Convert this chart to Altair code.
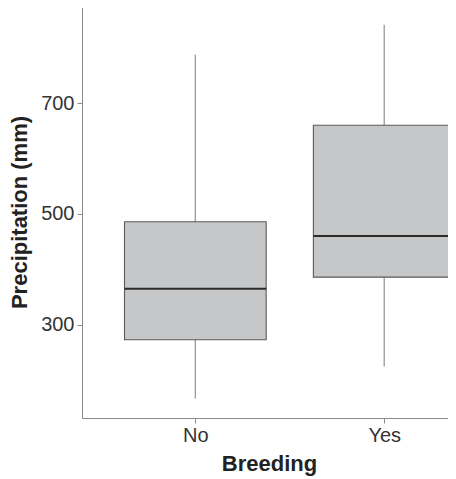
import altair as alt
import pandas as pd

categories = ["No", "Yes"]
positions = [1, 2]
lower = [167, 225]
q1 = [273, 386]
median = [365, 460]
q3 = [486, 660]
upper = [787, 841]

df = pd.DataFrame({
    "Breeding": categories,
    "pos": positions,
    "lower": lower,
    "q1": q1,
    "median": median,
    "q3": q3,
    "upper": upper,
})

FONT = "Liberation Sans"
x_scale = alt.Scale(domain=[0.4, 2.38], nice=False, zero=False)
y_scale = alt.Scale(domain=[132, 875], nice=False, zero=False)

base = alt.Chart(df).transform_calculate(
    lo="datum.pos - 0.375", hi="datum.pos + 0.375"
)

x_axis = alt.Axis(
    title="Breeding", values=[1, 2],
    labelExpr="datum.value == 1 ? 'No' : 'Yes'",
    grid=False, domainColor="#8a8a8a", tickColor="#8a8a8a", tickSize=5,
    labelFont=FONT, labelFontSize=20, labelColor="#333333", labelPadding=2,
    titleFont=FONT, titleFontSize=22, titleFontWeight="bold", titleColor="#222222",
    titlePadding=8,
)
y_axis = alt.Axis(
    title="Precipitation (mm)", values=[300, 500, 700],
    grid=False, domainColor="#8a8a8a", tickColor="#8a8a8a", tickSize=5,
    labelFont=FONT, labelFontSize=20, labelColor="#333333", labelPadding=3,
    titleFont=FONT, titleFontSize=22, titleFontWeight="bold", titleColor="#222222",
    titlePadding=9,
)

whisk_low = base.mark_rule(color="#999999", strokeWidth=1.3).encode(
    x=alt.X("pos:Q", scale=x_scale, axis=x_axis),
    y=alt.Y("lower:Q", scale=y_scale, axis=y_axis),
    y2="q1:Q",
)
whisk_high = base.mark_rule(color="#999999", strokeWidth=1.3).encode(
    x=alt.X("pos:Q", scale=x_scale),
    y=alt.Y("q3:Q", scale=y_scale),
    y2="upper:Q",
)
box = base.mark_rect(fill="#c6c7c9", stroke="#5a5a5a", strokeWidth=1.1, clip=True).encode(
    x=alt.X("lo:Q", scale=x_scale),
    x2="hi:Q",
    y=alt.Y("q1:Q", scale=y_scale),
    y2="q3:Q",
)
med = base.mark_rule(color="#2b2b2b", strokeWidth=2, clip=True).encode(
    x=alt.X("lo:Q", scale=x_scale),
    x2="hi:Q",
    y=alt.Y("median:Q", scale=y_scale),
)

chart = alt.layer(whisk_low, whisk_high, box, med).properties(
    width=374, height=412,
    autosize=alt.AutoSizeParams(type="none"),
    padding={"left": 74, "top": -2, "right": -8, "bottom": 61},
).configure(background="white").configure_view(stroke=None)

chart.save("out.html", embed_options={"renderer": "svg", "actions": False})
